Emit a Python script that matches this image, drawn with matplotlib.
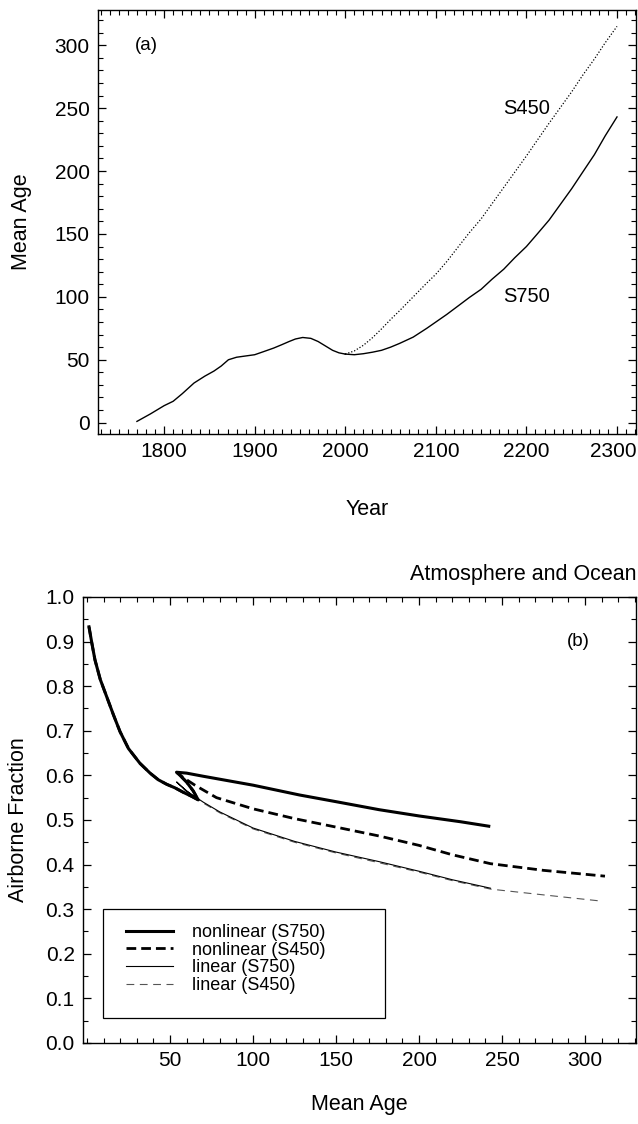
import matplotlib
matplotlib.use('Agg')
import matplotlib.pyplot as plt
import matplotlib.transforms as mtransforms
from matplotlib.patches import Rectangle
from matplotlib.ticker import MultipleLocator

plt.rcParams['font.family'] = ['Liberation Sans', 'DejaVu Sans']

# panel (a): mean age against year
year_hist = [1770, 1785, 1800, 1810, 1820, 1833, 1845, 1855, 1863, 1871, 1880, 1890, 1900,
             1910, 1921, 1930, 1938, 1945, 1953, 1962, 1970, 1978, 1986, 1993, 2000]
age_hist = [1, 7, 13.5, 17, 23, 31.5, 37, 41, 45, 50, 52, 53, 54,
            56.5, 59.3, 62, 64.5, 66.5, 67.7, 67, 64.5, 61, 57.5, 55.5, 54.5]
year_fut = [2000, 2010, 2020, 2030, 2040, 2050, 2060, 2075, 2090, 2100, 2112, 2125, 2137,
            2150, 2162, 2175, 2187, 2200, 2212, 2225, 2237, 2250, 2262, 2275, 2287, 2300]
age_s750 = [54.5, 54, 54.8, 56, 57.5, 60, 63, 68, 75, 80, 86, 93, 99.5,
            106, 114, 122, 131, 140, 150, 161, 173, 186, 199, 213, 228, 243]
age_s450 = [54.5, 57, 61.5, 67.5, 74.5, 82, 89, 100, 111, 118, 128, 140, 151,
            162, 174, 187, 199, 212, 224.5, 238, 250, 263, 276, 289, 302, 315]

# panel (b): airborne fraction against mean age
hist_age = [1.2, 3, 4.8, 8, 11.9, 16, 19.9, 25, 31.9, 38, 43, 48, 53, 58, 63, 67]
hist_af = [0.933, 0.895, 0.859, 0.815, 0.776, 0.735, 0.698, 0.66, 0.627, 0.605, 0.59, 0.58, 0.572, 0.562, 0.553, 0.545]

nl750_age = [64, 60, 56, 54, 60, 70, 85, 100, 128, 150, 176, 200, 225, 242]
nl750_af = [0.565, 0.585, 0.6, 0.607, 0.605, 0.598, 0.588, 0.578, 0.556, 0.541, 0.523, 0.509, 0.496, 0.486]
nl450_age = [64, 60, 56, 54, 58, 65, 78, 100, 125, 150, 176, 200, 220, 243, 275, 312]
nl450_af = [0.565, 0.585, 0.6, 0.607, 0.595, 0.578, 0.55, 0.525, 0.503, 0.484, 0.464, 0.443, 0.422, 0.402, 0.387, 0.374]
lin750_age = [64, 60, 56, 54, 60, 70, 80, 100, 125, 150, 176, 200, 220, 243]
lin750_af = [0.553, 0.565, 0.578, 0.585, 0.565, 0.54, 0.518, 0.482, 0.452, 0.428, 0.4065, 0.385, 0.366, 0.347]
lin450_age = [64, 60, 56, 54, 60, 70, 80, 100, 125, 150, 176, 200, 220, 243, 275, 310]
lin450_af = [0.553, 0.565, 0.578, 0.585, 0.563, 0.538, 0.516, 0.48, 0.45, 0.426, 0.404, 0.383, 0.364, 0.345, 0.332, 0.318]

fig = plt.figure(figsize=(6.38, 11.24), dpi=100)
ax1 = fig.add_axes([0.1536, 0.6139, 0.8433, 0.3772])
ax2 = fig.add_axes([0.1301, 0.0721, 0.8668, 0.3968])

for ax in (ax1, ax2):
    ax.tick_params(which='both', direction='in', top=True, right=True, labelsize=15)
    ax.tick_params(which='major', length=6, width=0.9, pad=6)
    ax.tick_params(which='minor', length=3.5, width=0.8)
    for s in ax.spines.values():
        s.set_linewidth(1.0)

# (a)
ax1.plot(year_hist, age_hist, color='black', lw=1.0)
ax1.plot(year_fut, age_s750, color='black', lw=1.0)
ax1.plot(year_fut, age_s450, color='black', lw=0.9, linestyle=(0, (1, 1.5)))
ax1.set_xlim(1727, 2321)
ax1.set_ylim(-9, 328)
ax1.xaxis.set_major_locator(MultipleLocator(100))
ax1.xaxis.set_minor_locator(MultipleLocator(10))
ax1.yaxis.set_major_locator(MultipleLocator(50))
ax1.yaxis.set_minor_locator(MultipleLocator(10))
ax1.set_xlabel('Year', fontsize=15.5, labelpad=27)
ax1.set_ylabel('Mean Age', fontsize=15.5, labelpad=16)
ax1.text(1780, 300, '(a)', fontsize=13.5, ha='center', va='center')
ax1.text(2200, 250, 'S450', fontsize=14.5, ha='center', va='center')
ax1.text(2200, 100, 'S750', fontsize=14.5, ha='center', va='center')

# keep the last year label inside the picture
fig.canvas.draw()
last = [t for t in ax1.get_xticklabels() if t.get_text() == '2300']
for t in last:
    t.set_transform(t.get_transform() + mtransforms.ScaledTranslation(-4 / 100, 0, fig.dpi_scale_trans))

# (b)
ax2.plot(hist_age + lin450_age, hist_af + lin450_af, color='#555555', lw=0.8,
         dashes=(7, 5), label='linear (S450)')
ax2.plot(hist_age + lin750_age, hist_af + lin750_af, color='black', lw=0.8,
         label='linear (S750)')
ax2.plot(hist_age + nl450_age, hist_af + nl450_af, color='black', lw=2.0,
         dashes=(3.5, 1.8), label='nonlinear (S450)')
ax2.plot(hist_age + nl750_age, hist_af + nl750_af, color='black', lw=2.2,
         label='nonlinear (S750)')
ax2.set_xlim(-2.4, 330.7)
ax2.set_ylim(0, 1.0)
ax2.set_xticks([50, 100, 150, 200, 250, 300])
ax2.xaxis.set_minor_locator(MultipleLocator(10))
ax2.yaxis.set_major_locator(MultipleLocator(0.1))
ax2.yaxis.set_minor_locator(MultipleLocator(0.05))
ax2.yaxis.set_major_formatter(lambda v, p: f'{v:.1f}')
ax2.set_xlabel('Mean Age', fontsize=15.5, labelpad=17)
ax2.set_ylabel('Airborne Fraction', fontsize=15.5, labelpad=12)
ax2.set_title('Atmosphere and Ocean', loc='right', fontsize=15.5, pad=12)
ax2.text(296, 0.9, '(b)', fontsize=13.5, ha='center', va='center')

ax2.add_patch(Rectangle((0.036, 0.056), 0.51, 0.244, transform=ax2.transAxes,
                        fill=False, lw=0.9, edgecolor='black', zorder=3))
h, l = ax2.get_legend_handles_labels()
ax2.legend(h[::-1], l[::-1], loc='upper left', bbox_to_anchor=(0.077, 0.267),
           frameon=False, fontsize=13, handlelength=2.6, handletextpad=1.1,
           labelspacing=0.04, borderpad=0, borderaxespad=0)

fig.savefig('out.png', dpi=100)
